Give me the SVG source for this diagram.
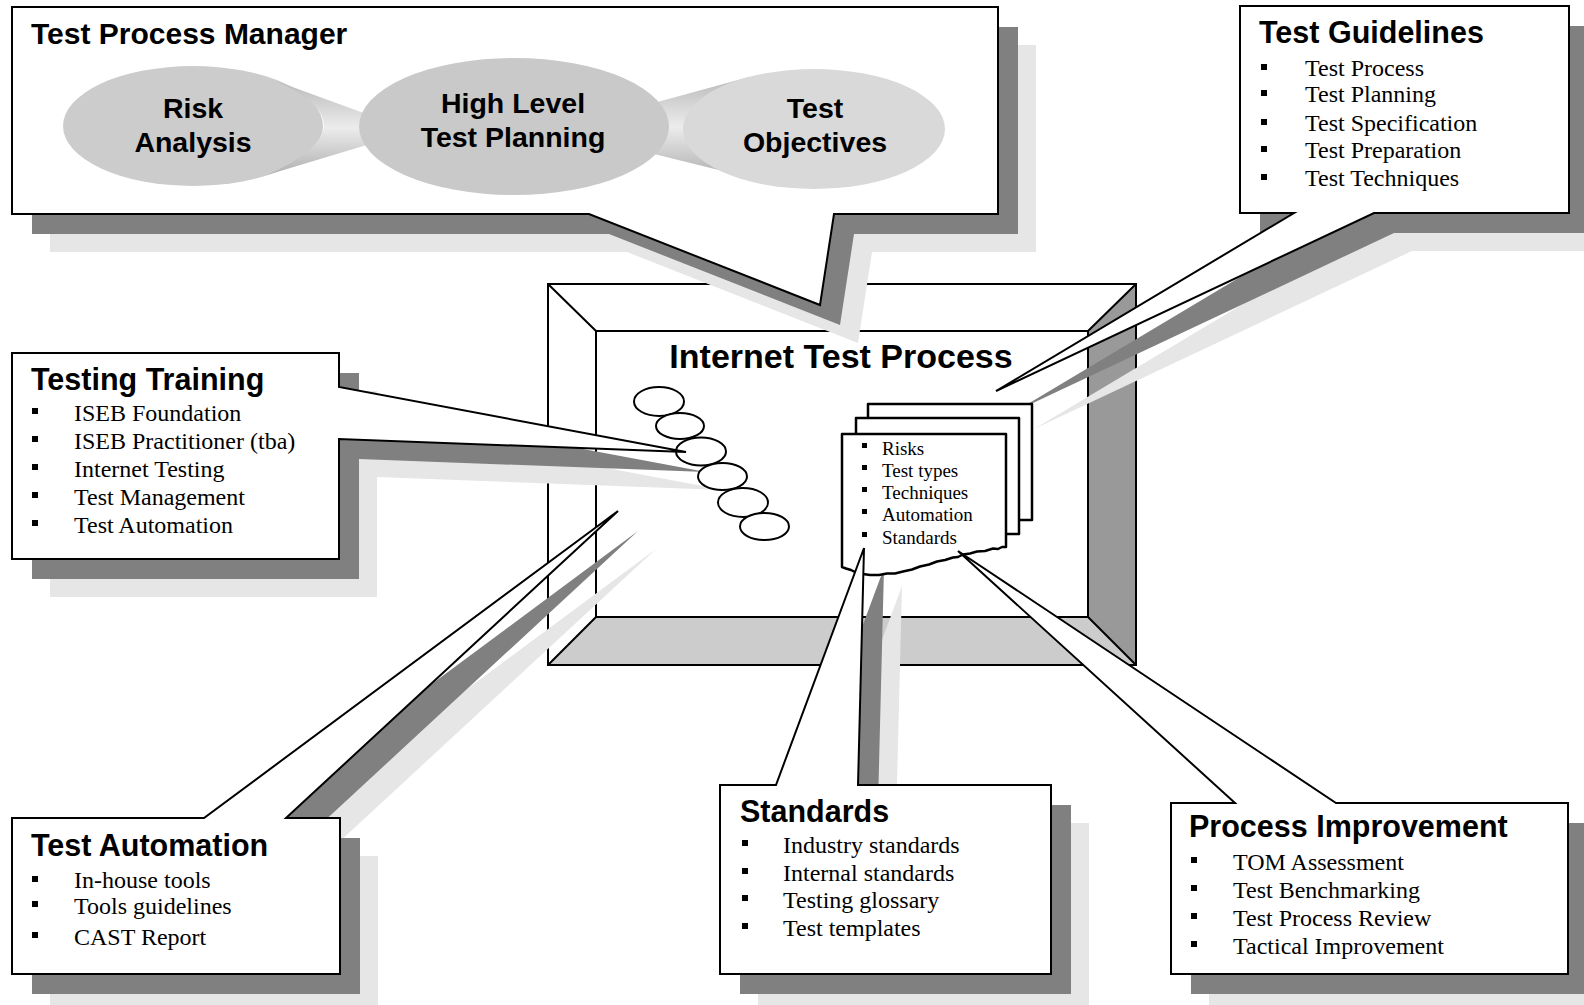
<svg xmlns="http://www.w3.org/2000/svg" width="1584" height="1005" viewBox="0 0 1584 1005">
<style>
.line{fill:none;stroke:#000;stroke-width:2}
.callout{fill:#fff;stroke:#000;stroke-width:2}
.sd{fill:#808080}
.sl{fill:#e6e6e6}
.title{font-family:"Liberation Sans",Arial,sans-serif;font-weight:bold;font-size:30.5px;fill:#000}
.item{font-family:"Liberation Serif","Times New Roman",serif;font-size:24px;fill:#000}
.doc{font-family:"Liberation Serif","Times New Roman",serif;font-size:19px;fill:#000}
.oval{font-family:"Liberation Sans",Arial,sans-serif;font-weight:bold;font-size:28.5px;text-anchor:middle;fill:#000}
.bubble{fill:#fff;stroke:#000;stroke-width:2}
.page{fill:#fff;stroke:#000;stroke-width:2.5;stroke-linejoin:round}
.bul{fill:#000}
</style>
<defs>
<path id="s-tpm" d="M12,7 H998 V214 H834 L820,305 L589,214 H12 Z"/>
<path id="s-tg" d="M1240,6 H1569 V213 H1374 L996,391 L1294,213 H1240 Z"/>
<path id="s-tt" d="M12,353 H339 V387 L686,452 L339,439 V559 H12 Z"/>
<path id="s-ta" d="M12,818 H204 L618,511 L286,818 H340 V974 H12 Z"/>
<path id="s-std" d="M720,785 H776 L864,548 L858,785 H1051 V974 H720 Z"/>
<path id="s-pi" d="M1171,803 H1235 L958,551 L1336,803 H1568 V974 H1171 Z"/>
<rect id="r-pi" x="1171" y="803" width="397" height="171"/>
<rect id="b" width="6" height="6"/>
<rect id="bs" width="5" height="5"/>
<linearGradient id="cone" x1="0" y1="0" x2="0" y2="1">
<stop offset="0" stop-color="#b9b9b9"/>
<stop offset="0.5" stop-color="#ececec"/>
<stop offset="1" stop-color="#b0b0b0"/>
</linearGradient>
</defs>

<rect width="1584" height="1005" fill="#fff"/>

<g id="internet-test-process">
<rect x="548" y="284" width="588" height="381" fill="#fff"/>
<polygon points="1088,331 1136,284 1136,665 1088,617" fill="#999"/>
<polygon points="596,617 1088,617 1136,665 548,665" fill="#ccc"/>
<rect class="line" x="548" y="284" width="588" height="381"/>
<rect class="line" x="596" y="331" width="492" height="286"/>
<path class="line" d="M548,284 L596,331 M1136,284 L1088,331 M548,665 L596,617 M1136,665 L1088,617"/>
<text x="841" y="368" text-anchor="middle" font-family="Liberation Sans, Arial, sans-serif" font-weight="bold" font-size="34">Internet Test Process</text>
</g>

<g id="shadows">
<use href="#s-tpm" class="sl" transform="translate(38,38)"/>
<use href="#s-tpm" class="sd" transform="translate(20,20)"/>
<use href="#s-tg" class="sl" transform="translate(38,38)"/>
<use href="#s-tg" class="sd" transform="translate(20,20)"/>
<use href="#s-tt" class="sl" transform="translate(38,38)"/>
<use href="#s-tt" class="sd" transform="translate(20,20)"/>
<use href="#s-ta" class="sl" transform="translate(38,38)"/>
<use href="#s-ta" class="sd" transform="translate(20,20)"/>
<use href="#s-std" class="sl" transform="translate(38,38)"/>
<use href="#s-std" class="sd" transform="translate(20,20)"/>
<use href="#r-pi" class="sl" transform="translate(38,38)"/>
<use href="#r-pi" class="sd" transform="translate(20,20)"/>
</g>

<g id="bubbles">
<ellipse class="bubble" cx="659" cy="401.5" rx="25" ry="14.5"/>
<ellipse class="bubble" cx="680" cy="426" rx="24" ry="13"/>
<ellipse class="bubble" cx="701" cy="451.5" rx="25" ry="14"/>
<ellipse class="bubble" cx="722.5" cy="476.5" rx="24.5" ry="13.5"/>
<ellipse class="bubble" cx="743" cy="502.5" rx="25" ry="14.5"/>
<ellipse class="bubble" cx="764.5" cy="526.5" rx="24.5" ry="13.5"/>
</g>

<g id="documents">
<rect class="page" x="868" y="404" width="164" height="116"/>
<rect class="page" x="856" y="418" width="163" height="116"/>
<path class="page" d="M842,434 H1006 V547 L1002,547 L998,549 L993,548.5 L985,551 L977,551.5 L970,553.5 L963,554.5 L958,557 L953,557.5 L945,560 L937,561.5 L929,564.5 L920,566.5 L912,569.5 L903,571.5 L895,573.5 L887,573.5 L879,575 L870,575 L863,574 L857,573 L851,570 L846,568.5 L842,567 Z"/>
<use href="#bs" class="bul" x="862" y="443"/>
<use href="#bs" class="bul" x="862" y="465"/>
<use href="#bs" class="bul" x="862" y="487"/>
<use href="#bs" class="bul" x="862" y="509"/>
<use href="#bs" class="bul" x="862" y="532"/>
<text class="doc" x="882" y="455">Risks</text>
<text class="doc" x="882" y="477">Test types</text>
<text class="doc" x="882" y="499">Techniques</text>
<text class="doc" x="882" y="521">Automation</text>
<text class="doc" x="882" y="544">Standards</text>
</g>

<g id="test-process-manager">
<use href="#s-tpm" class="callout"/>
<text class="title" x="31" y="44" style="font-size:30px">Test Process Manager</text>
</g>

<g id="risk-analysis">
<ellipse cx="193" cy="126" rx="130" ry="60" fill="#cccccc"/>
<text class="oval" x="193" y="118">Risk</text>
<text class="oval" x="193" y="152">Analysis</text>
</g>

<g id="connectors">
<path d="M276,81 L380,119 L380,141 L267,175 Q376,126 276,81 Z" fill="url(#cone)"/>
<path d="M650,104 L749,77 L747,177 L650,153 Z" fill="url(#cone)"/>
</g>

<g id="high-level-test-planning">
<ellipse cx="514" cy="126.5" rx="155" ry="68.5" fill="#c9c9c9"/>
<text class="oval" x="513" y="113">High Level</text>
<text class="oval" x="513" y="147">Test Planning</text>
</g>

<g id="test-objectives">
<ellipse cx="814" cy="129" rx="131" ry="60" fill="#d9d9d9"/>
<text class="oval" x="815" y="118">Test</text>
<text class="oval" x="815" y="152">Objectives</text>
</g>

<g id="test-guidelines">
<use href="#s-tg" class="callout"/>
<text class="title" x="1259" y="43">Test Guidelines</text>
<use href="#b" class="bul" x="1261" y="64"/>
<use href="#b" class="bul" x="1261" y="90"/>
<use href="#b" class="bul" x="1261" y="119"/>
<use href="#b" class="bul" x="1261" y="146"/>
<use href="#b" class="bul" x="1261" y="174"/>
<text class="item" x="1305" y="76">Test Process</text>
<text class="item" x="1305" y="102">Test Planning</text>
<text class="item" x="1305" y="131">Test Specification</text>
<text class="item" x="1305" y="158">Test Preparation</text>
<text class="item" x="1305" y="186">Test Techniques</text>
</g>

<g id="testing-training">
<use href="#s-tt" class="callout"/>
<text class="title" x="31" y="390">Testing Training</text>
<use href="#b" class="bul" x="32" y="408"/>
<use href="#b" class="bul" x="32" y="436"/>
<use href="#b" class="bul" x="32" y="464"/>
<use href="#b" class="bul" x="32" y="492"/>
<use href="#b" class="bul" x="32" y="520"/>
<text class="item" x="74" y="421">ISEB Foundation</text>
<text class="item" x="74" y="449">ISEB Practitioner (tba)</text>
<text class="item" x="74" y="477">Internet Testing</text>
<text class="item" x="74" y="505">Test Management</text>
<text class="item" x="74" y="533">Test Automation</text>
</g>

<g id="test-automation">
<use href="#s-ta" class="callout"/>
<text class="title" x="31" y="856">Test Automation</text>
<use href="#b" class="bul" x="32" y="876"/>
<use href="#b" class="bul" x="32" y="901"/>
<use href="#b" class="bul" x="32" y="932"/>
<text class="item" x="74" y="888">In-house tools</text>
<text class="item" x="74" y="914">Tools guidelines</text>
<text class="item" x="74" y="945">CAST Report</text>
</g>

<g id="standards">
<use href="#s-std" class="callout"/>
<text class="title" x="740" y="822">Standards</text>
<use href="#b" class="bul" x="742" y="840"/>
<use href="#b" class="bul" x="742" y="868"/>
<use href="#b" class="bul" x="742" y="895"/>
<use href="#b" class="bul" x="742" y="923"/>
<text class="item" x="783" y="853">Industry standards</text>
<text class="item" x="783" y="881">Internal standards</text>
<text class="item" x="783" y="908">Testing glossary</text>
<text class="item" x="783" y="936">Test templates</text>
</g>

<g id="process-improvement">
<use href="#s-pi" class="callout"/>
<text class="title" x="1189" y="837">Process Improvement</text>
<use href="#b" class="bul" x="1191" y="857"/>
<use href="#b" class="bul" x="1191" y="885"/>
<use href="#b" class="bul" x="1191" y="913"/>
<use href="#b" class="bul" x="1191" y="941"/>
<text class="item" x="1233" y="870">TOM Assessment</text>
<text class="item" x="1233" y="898">Test Benchmarking</text>
<text class="item" x="1233" y="926">Test Process Review</text>
<text class="item" x="1233" y="954">Tactical Improvement</text>
</g>
</svg>
